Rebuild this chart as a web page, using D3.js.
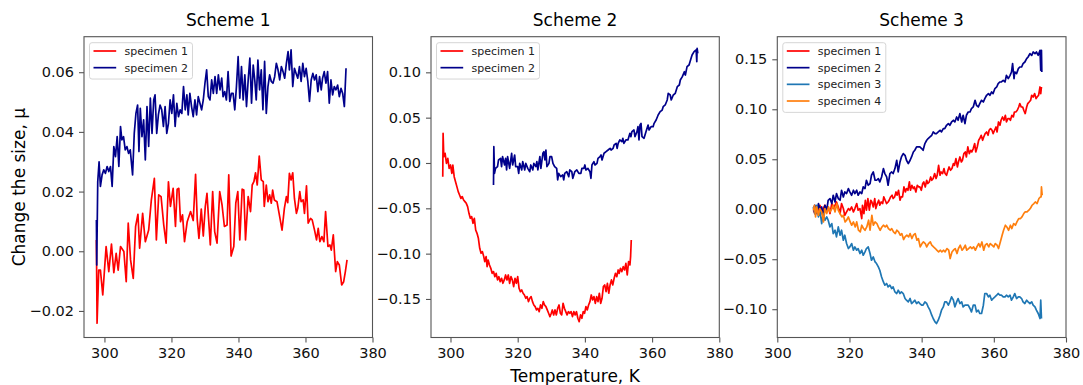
<!DOCTYPE html>
<html>
<head>
<meta charset="utf-8">
<script src="https://cdn.jsdelivr.net/npm/d3@7"></script>
<style>
  body { margin: 0; background: #fff; }
  svg { display: block; font-family: "DejaVu Sans", sans-serif; }
</style>
</head>
<body>
<div id="chart"></div>
<script>
const xTicks = [300, 320, 340, 360, 380]
const yTicks1 = [-0.02, 0, 0.02, 0.04, 0.06]
const yTicks2 = [-0.15, -0.10, -0.05, 0, 0.05, 0.10]
const yTicks3 = [-0.10, -0.05, 0, 0.05, 0.10, 0.15]
const titles = ["Scheme 1", "Scheme 2", "Scheme 3"]
const specimenNames = ["specimen 1", "specimen 2", "specimen 3", "specimen 4"]
const xaxislabel = "Temperature, K"
const yaxislabel = "Change the size, μ"

// [temperature K, change]
const scheme1Spec1 = [[297.6,0.0038],[297.8,-0.0241],[298.3,-0.0063],[298.8,-0.0063],[299.5,-0.0146],[300.5,0.0016],[301.3,-0.0068],[302.1,0.0024],[302.8,-0.0072],[303.5,-0.0007],[304.1,-0.0063],[304.8,0.0016],[305.8,-0.0001],[306.5,-0.0102],[307.1,0.0094],[307.8,-0.0029],[308.6,-0.0091],[309.3,0.0083],[310.0,0.0124],[310.5,0.0010],[311.4,0.0127],[312.2,0.0032],[313.2,0.0071],[314.0,0.0172],[314.9,0.0244],[315.5,0.0038],[316.2,0.0189],[316.9,0.0183],[317.7,0.0088],[318.4,0.0027],[319.1,0.0233],[319.7,0.0150],[320.5,0.0211],[321.2,0.0083],[321.7,0.0208],[322.2,0.0211],[322.7,0.0099],[323.3,0.0122],[323.9,0.0032],[324.7,0.0099],[325.7,0.0133],[326.5,0.0103],[327.2,0.0258],[327.7,0.0105],[328.2,0.0043],[328.9,0.0141],[329.5,0.0051],[330.1,0.0150],[330.6,0.0194],[331.1,0.0105],[331.6,0.0021],[332.3,0.0200],[332.9,0.0066],[333.6,0.0027],[334.4,0.0200],[335.1,0.0155],[335.8,0.0083],[336.6,0.0088],[337.1,0.0256],[337.8,-0.0016],[338.6,0.0016],[339.2,0.0161],[339.8,0.0200],[340.4,0.0038],[341.1,0.0208],[341.6,0.0205],[342.1,0.0038],[342.9,0.0183],[343.6,0.0133],[344.1,0.0222],[344.6,0.0233],[345.1,0.0263],[345.6,0.0222],[346.2,0.0319],[346.8,0.0239],[347.4,0.0233],[347.7,0.0150],[348.3,0.0222],[348.8,0.0166],[349.3,0.0189],[349.8,0.0161],[350.2,0.0205],[350.7,0.0172],[351.5,0.0166],[352.3,0.0116],[353.0,0.0071],[353.7,0.0144],[354.3,0.0183],[354.7,0.0163],[355.2,0.0261],[355.7,0.0239],[356.2,0.0263],[356.7,0.0177],[357.3,0.0127],[357.7,0.0144],[358.3,0.0200],[358.7,0.0166],[359.3,0.0172],[359.7,0.0127],[360.3,0.0219],[360.8,0.0094],[361.5,0.0110],[362.0,0.0105],[362.7,0.0071],[363.3,0.0038],[363.8,0.0077],[364.3,0.0032],[364.9,0.0049],[365.5,0.0032],[366.0,0.0133],[366.7,0.0016],[367.3,0.0021],[367.7,0.0004],[368.3,0.0055],[369.0,-0.0068],[369.5,-0.0035],[370.1,-0.0046],[370.8,-0.0113],[371.4,-0.0102],[371.9,-0.0068],[372.4,-0.0029]]

const scheme1Spec2 = [[297.6,0.0105],[297.7,-0.0046],[298.0,0.0233],[298.4,0.0300],[298.8,0.0217],[299.3,0.0256],[299.8,0.0273],[300.3,0.0261],[300.8,0.0284],[301.3,0.0267],[301.8,0.0284],[302.3,0.0217],[302.8,0.0351],[303.3,0.0317],[303.8,0.0384],[304.3,0.0284],[304.8,0.0418],[305.2,0.0373],[305.7,0.0384],[306.2,0.0340],[306.7,0.0351],[307.2,0.0328],[307.7,0.0340],[308.4,0.0256],[308.9,0.0395],[309.4,0.0462],[309.9,0.0490],[310.3,0.0334],[310.7,0.0479],[311.2,0.0384],[311.7,0.0440],[312.2,0.0306],[312.7,0.0485],[313.2,0.0351],[313.7,0.0513],[314.2,0.0395],[314.7,0.0507],[315.1,0.0524],[315.6,0.0395],[316.1,0.0457],[316.6,0.0490],[317.1,0.0474],[317.6,0.0418],[318.1,0.0485],[318.6,0.0395],[319.1,0.0429],[319.6,0.0507],[320.1,0.0462],[320.6,0.0524],[321.1,0.0418],[321.6,0.0496],[322.1,0.0451],[322.6,0.0474],[323.1,0.0462],[323.6,0.0552],[324.1,0.0474],[324.6,0.0524],[325.0,0.0457],[325.5,0.0529],[326.0,0.0485],[326.5,0.0451],[327.0,0.0507],[327.5,0.0457],[328.0,0.0518],[328.5,0.0496],[329.0,0.0474],[329.5,0.0507],[330.0,0.0563],[330.5,0.0608],[331.0,0.0518],[331.5,0.0507],[332.0,0.0574],[332.5,0.0529],[333.0,0.0585],[333.5,0.0529],[334.0,0.0591],[334.5,0.0541],[335.0,0.0580],[335.4,0.0518],[335.9,0.0535],[336.4,0.0507],[336.9,0.0602],[337.4,0.0502],[337.9,0.0529],[338.4,0.0529],[338.9,0.0474],[339.4,0.0552],[339.9,0.0652],[340.4,0.0513],[340.9,0.0619],[341.4,0.0507],[341.9,0.0591],[342.4,0.0485],[342.9,0.0574],[343.4,0.0647],[343.9,0.0496],[344.4,0.0624],[344.9,0.0569],[345.3,0.0507],[345.8,0.0641],[346.3,0.0541],[346.8,0.0608],[347.3,0.0474],[347.8,0.0636],[348.3,0.0462],[348.8,0.0552],[349.3,0.0591],[349.8,0.0569],[350.3,0.0563],[350.8,0.0585],[351.3,0.0630],[351.8,0.0608],[352.3,0.0574],[352.8,0.0619],[353.3,0.0602],[353.8,0.0580],[354.3,0.0630],[354.8,0.0669],[355.2,0.0608],[355.7,0.0675],[356.2,0.0552],[356.7,0.0613],[357.2,0.0596],[357.7,0.0580],[358.2,0.0619],[358.7,0.0569],[359.2,0.0630],[359.7,0.0585],[360.2,0.0613],[360.7,0.0569],[361.2,0.0502],[361.7,0.0574],[362.2,0.0596],[362.7,0.0574],[363.2,0.0591],[363.7,0.0535],[364.2,0.0585],[364.7,0.0541],[365.1,0.0580],[365.6,0.0602],[366.1,0.0563],[366.6,0.0602],[367.1,0.0496],[367.6,0.0574],[368.1,0.0524],[368.6,0.0552],[369.1,0.0541],[369.6,0.0557],[370.1,0.0518],[370.6,0.0546],[371.1,0.0529],[371.6,0.0485],[372.1,0.0613]]

const scheme2Spec1 = [[297.7,-0.0151],[297.8,0.0327],[298.0,0.0070],[298.4,0.0107],[298.8,-0.0004],[299.2,0.0051],[299.6,-0.0059],[300.0,-0.0022],[300.4,-0.0114],[300.7,-0.0022],[301.1,-0.0151],[301.5,-0.0206],[301.9,-0.0261],[302.3,-0.0316],[302.7,-0.0353],[303.1,-0.0390],[303.5,-0.0371],[303.9,-0.0408],[304.3,-0.0426],[304.7,-0.0445],[305.1,-0.0482],[305.5,-0.0555],[305.9,-0.0610],[306.3,-0.0592],[306.7,-0.0665],[307.1,-0.0610],[307.5,-0.0739],[307.9,-0.0776],[308.3,-0.0831],[308.7,-0.0941],[309.1,-0.0996],[309.5,-0.0978],[309.9,-0.1033],[310.2,-0.1088],[310.6,-0.1033],[310.9,-0.1143],[311.2,-0.1070],[311.6,-0.1125],[312.0,-0.1162],[312.4,-0.1217],[312.8,-0.1198],[313.2,-0.1254],[313.6,-0.1217],[314.0,-0.1290],[314.4,-0.1254],[314.8,-0.1309],[315.2,-0.1272],[315.6,-0.1327],[316.0,-0.1290],[316.4,-0.1235],[316.8,-0.1290],[317.2,-0.1235],[317.6,-0.1327],[318.0,-0.1254],[318.4,-0.1290],[318.8,-0.1364],[319.2,-0.1272],[319.6,-0.1327],[320.0,-0.1254],[320.4,-0.1382],[320.8,-0.1419],[321.2,-0.1401],[321.6,-0.1437],[322.0,-0.1456],[322.4,-0.1492],[322.8,-0.1474],[323.2,-0.1529],[323.6,-0.1492],[324.0,-0.1474],[324.4,-0.1529],[324.8,-0.1566],[325.2,-0.1584],[325.6,-0.1621],[326.0,-0.1603],[326.4,-0.1640],[326.8,-0.1566],[327.2,-0.1603],[327.6,-0.1529],[328.0,-0.1566],[328.4,-0.1584],[328.8,-0.1621],[329.2,-0.1658],[329.6,-0.1695],[330.0,-0.1658],[330.3,-0.1621],[330.7,-0.1676],[331.1,-0.1621],[331.5,-0.1676],[331.9,-0.1603],[332.3,-0.1566],[332.7,-0.1658],[333.1,-0.1676],[333.5,-0.1548],[333.9,-0.1603],[334.3,-0.1640],[334.7,-0.1676],[335.1,-0.1640],[335.5,-0.1658],[335.9,-0.1640],[336.3,-0.1695],[336.7,-0.1640],[337.1,-0.1676],[337.5,-0.1640],[337.9,-0.1713],[338.3,-0.1750],[338.7,-0.1676],[339.1,-0.1713],[339.5,-0.1640],[339.9,-0.1658],[340.3,-0.1584],[340.7,-0.1621],[341.1,-0.1566],[341.5,-0.1529],[341.9,-0.1456],[342.3,-0.1511],[342.7,-0.1474],[343.1,-0.1548],[343.5,-0.1474],[343.9,-0.1529],[344.3,-0.1437],[344.7,-0.1548],[345.1,-0.1492],[345.5,-0.1364],[345.9,-0.1345],[346.3,-0.1419],[346.7,-0.1327],[347.1,-0.1437],[347.5,-0.1345],[347.9,-0.1290],[348.3,-0.1345],[348.7,-0.1272],[349.1,-0.1217],[349.5,-0.1254],[349.9,-0.1180],[350.2,-0.1217],[350.6,-0.1162],[351.0,-0.1198],[351.4,-0.1143],[351.8,-0.1180],[352.2,-0.1107],[352.6,-0.1235],[353.0,-0.1088],[353.4,-0.1125],[353.6,-0.1033],[353.8,-0.0849]]

const scheme2Spec2 = [[312.8,-0.0243],[312.9,0.0180],[313.1,-0.0114],[313.4,-0.0059],[314.0,-0.0040],[314.3,0.0033],[314.9,0.0051],[315.2,-0.0040],[315.5,0.0070],[316.1,-0.0022],[316.4,0.0051],[316.7,-0.0077],[317.0,0.0070],[317.6,-0.0059],[318.2,0.0107],[318.5,-0.0022],[319.1,0.0088],[319.4,-0.0040],[320.0,-0.0040],[320.3,-0.0114],[320.6,-0.0004],[321.2,-0.0077],[321.5,0.0015],[322.1,-0.0077],[322.4,-0.0004],[323.0,-0.0059],[323.6,-0.0096],[323.9,-0.0022],[324.5,-0.0077],[324.8,-0.0004],[325.4,-0.0040],[325.7,0.0015],[326.0,-0.0077],[326.6,0.0070],[326.9,-0.0059],[327.5,0.0107],[327.8,0.0125],[328.1,0.0033],[328.4,0.0143],[328.7,-0.0040],[329.3,-0.0004],[329.6,0.0070],[330.1,0.0070],[330.5,-0.0004],[331.0,-0.0040],[331.6,-0.0059],[331.9,-0.0187],[332.2,-0.0114],[332.8,-0.0151],[333.4,-0.0132],[333.7,-0.0187],[334.0,-0.0114],[334.6,-0.0096],[335.2,-0.0151],[335.5,-0.0077],[336.1,-0.0096],[336.4,-0.0169],[337.0,-0.0096],[337.6,-0.0077],[338.2,-0.0114],[338.8,-0.0114],[339.1,-0.0059],[339.7,-0.0059],[340.0,-0.0022],[340.3,-0.0077],[340.9,-0.0059],[341.5,-0.0096],[341.8,-0.0169],[342.1,-0.0022],[342.7,0.0015],[343.0,-0.0022],[343.6,-0.0004],[343.9,0.0051],[344.5,0.0070],[344.8,0.0088],[345.1,0.0033],[345.7,0.0107],[346.3,0.0125],[346.9,0.0143],[347.5,0.0162],[347.8,0.0143],[348.4,0.0162],[348.7,0.0199],[349.3,0.0217],[349.6,0.0162],[349.9,0.0217],[350.4,0.0254],[351.0,0.0235],[351.3,0.0272],[351.6,0.0217],[352.2,0.0254],[352.8,0.0254],[353.4,0.0327],[353.7,0.0290],[354.0,0.0346],[354.6,0.0364],[354.9,0.0290],[355.5,0.0346],[355.8,0.0401],[356.1,0.0254],[356.4,0.0419],[356.7,0.0437],[357.0,0.0290],[357.6,0.0272],[358.2,0.0346],[358.8,0.0419],[359.1,0.0364],[359.7,0.0401],[360.3,0.0401],[360.6,0.0437],[361.2,0.0474],[361.8,0.0529],[362.4,0.0566],[363.0,0.0584],[363.3,0.0621],[363.9,0.0640],[364.5,0.0695],[364.8,0.0768],[365.4,0.0750],[365.7,0.0695],[366.3,0.0750],[366.9,0.0768],[367.5,0.0842],[368.1,0.0860],[368.4,0.0915],[369.0,0.0952],[369.6,0.1007],[369.9,0.0970],[370.4,0.1062],[371.0,0.1081],[371.6,0.1154],[371.9,0.1191],[372.5,0.1228],[373.1,0.1246],[373.3,0.1118],[373.4,0.1265],[373.6,0.1209]]

const scheme3Spec1 = [[310.0,-0.0010],[310.4,-0.0043],[310.9,0.0023],[311.4,-0.0027],[311.8,0.0040],[312.3,-0.0043],[312.7,0.0007],[313.2,0.0040],[313.7,-0.0010],[314.1,0.0023],[314.6,-0.0043],[315.1,0.0057],[315.5,0.0007],[316.0,0.0040],[316.4,0.0073],[316.9,0.0023],[317.4,-0.0043],[317.8,0.0057],[318.3,0.0007],[318.7,-0.0060],[319.2,-0.0027],[319.7,0.0007],[320.1,-0.0010],[320.6,0.0023],[321.1,-0.0027],[321.5,0.0007],[322.0,0.0057],[322.4,-0.0010],[322.9,0.0007],[323.4,-0.0093],[323.6,0.0040],[324.0,-0.0043],[324.4,0.0090],[324.7,-0.0010],[325.1,0.0107],[325.5,-0.0010],[325.9,0.0090],[326.2,0.0073],[326.6,0.0023],[327.0,0.0107],[327.3,0.0007],[327.7,0.0057],[328.1,0.0090],[328.4,0.0040],[328.8,0.0073],[329.2,0.0057],[329.5,0.0123],[329.9,0.0090],[330.3,0.0057],[330.7,0.0073],[331.0,0.0090],[331.4,0.0123],[331.8,0.0140],[332.1,0.0107],[332.5,0.0123],[332.9,0.0173],[333.2,0.0140],[333.6,0.0190],[334.0,0.0090],[334.3,0.0123],[334.7,0.0123],[335.1,0.0223],[335.5,0.0173],[335.8,0.0207],[336.2,0.0190],[336.6,0.0273],[336.9,0.0190],[337.3,0.0240],[337.7,0.0207],[338.0,0.0223],[338.4,0.0173],[338.8,0.0240],[339.2,0.0223],[339.5,0.0223],[339.9,0.0190],[340.3,0.0257],[340.6,0.0273],[341.0,0.0223],[341.4,0.0290],[341.7,0.0257],[342.1,0.0273],[342.5,0.0323],[342.8,0.0290],[343.2,0.0307],[343.6,0.0357],[344.0,0.0307],[344.3,0.0340],[344.7,0.0440],[345.1,0.0340],[345.4,0.0373],[345.8,0.0357],[346.2,0.0407],[346.5,0.0357],[346.9,0.0340],[347.3,0.0390],[347.6,0.0423],[348.0,0.0390],[348.4,0.0407],[348.8,0.0457],[349.1,0.0440],[349.5,0.0507],[349.9,0.0423],[350.2,0.0473],[350.6,0.0523],[351.0,0.0473],[351.3,0.0490],[351.7,0.0557],[352.1,0.0573],[352.4,0.0523],[352.8,0.0623],[353.2,0.0557],[353.6,0.0590],[353.9,0.0573],[354.3,0.0607],[354.7,0.0657],[355.0,0.0573],[355.4,0.0623],[355.8,0.0690],[356.1,0.0707],[356.5,0.0740],[356.9,0.0690],[357.2,0.0723],[357.6,0.0757],[358.0,0.0773],[358.4,0.0740],[358.7,0.0790],[359.1,0.0807],[359.5,0.0790],[359.8,0.0757],[360.2,0.0790],[360.6,0.0823],[360.9,0.0773],[361.3,0.0873],[361.7,0.0840],[362.0,0.0890],[362.4,0.0923],[362.8,0.0890],[363.2,0.0940],[363.5,0.0873],[363.9,0.0907],[364.3,0.0907],[364.6,0.0890],[365.0,0.0940],[365.4,0.0923],[365.7,0.0973],[366.1,0.0973],[366.5,0.0990],[366.9,0.1023],[367.2,0.1057],[367.6,0.1023],[368.0,0.1023],[368.3,0.0990],[368.7,0.0957],[369.1,0.1023],[369.4,0.1057],[369.8,0.1073],[370.2,0.1090],[370.5,0.1140],[370.9,0.1123],[371.3,0.1157],[371.7,0.1107],[372.0,0.1123],[372.4,0.1140],[372.8,0.1223],[373.0,0.1157],[373.2,0.1223]]

const scheme3Spec2 = [[310.0,0.0007],[310.4,0.0040],[310.9,-0.0043],[311.4,0.0057],[311.8,-0.0010],[312.3,0.0023],[312.7,-0.0077],[313.2,0.0040],[313.7,-0.0010],[314.1,0.0090],[314.6,0.0107],[315.1,0.0057],[315.5,0.0140],[316.0,0.0073],[316.4,0.0157],[316.9,0.0107],[317.4,0.0090],[317.8,0.0190],[318.3,0.0123],[318.7,0.0173],[319.2,0.0157],[319.7,0.0207],[320.1,0.0173],[320.6,0.0140],[321.1,0.0190],[321.5,0.0157],[322.0,0.0190],[322.4,0.0140],[322.9,0.0173],[323.4,0.0157],[323.8,0.0223],[324.3,0.0207],[324.7,0.0290],[325.2,0.0240],[325.7,0.0257],[326.1,0.0340],[326.6,0.0373],[327.1,0.0290],[327.5,0.0290],[328.0,0.0307],[328.4,0.0273],[328.9,0.0323],[329.4,0.0407],[329.8,0.0357],[330.3,0.0323],[330.7,0.0240],[331.2,0.0357],[331.7,0.0373],[332.1,0.0357],[332.6,0.0407],[333.1,0.0490],[333.5,0.0373],[334.0,0.0473],[334.4,0.0523],[334.9,0.0557],[335.4,0.0540],[335.8,0.0490],[336.3,0.0457],[336.8,0.0490],[337.2,0.0523],[337.7,0.0573],[338.1,0.0590],[338.6,0.0623],[339.1,0.0623],[339.5,0.0623],[340.0,0.0607],[340.4,0.0590],[340.9,0.0657],[341.4,0.0690],[341.8,0.0707],[342.3,0.0723],[342.8,0.0740],[343.2,0.0773],[343.7,0.0757],[344.1,0.0757],[344.6,0.0773],[345.1,0.0790],[345.5,0.0773],[346.0,0.0807],[346.4,0.0807],[346.9,0.0840],[347.4,0.0857],[347.8,0.0840],[348.3,0.0873],[348.8,0.0890],[349.2,0.0873],[349.7,0.0923],[350.1,0.0890],[350.6,0.0957],[351.1,0.0873],[351.5,0.0940],[352.0,0.0857],[352.4,0.0940],[352.9,0.0973],[353.4,0.0973],[353.8,0.1007],[354.3,0.1023],[354.8,0.1090],[355.2,0.1040],[355.7,0.1023],[356.1,0.1057],[356.6,0.1090],[357.1,0.1073],[357.5,0.1107],[358.0,0.1140],[358.5,0.1157],[358.9,0.1140],[359.4,0.1173],[359.8,0.1157],[360.3,0.1207],[360.8,0.1223],[361.2,0.1257],[361.7,0.1273],[362.1,0.1273],[362.6,0.1290],[363.1,0.1273],[363.5,0.1340],[364.0,0.1307],[364.5,0.1340],[364.9,0.1373],[365.2,0.1457],[365.6,0.1307],[365.8,0.1373],[366.3,0.1357],[366.8,0.1407],[367.2,0.1423],[367.7,0.1423],[368.1,0.1457],[368.6,0.1473],[369.1,0.1507],[369.5,0.1523],[370.0,0.1557],[370.5,0.1540],[370.9,0.1573],[371.4,0.1557],[371.8,0.1573],[372.3,0.1540],[372.8,0.1590],[373.0,0.1390],[373.2,0.1590],[373.3,0.1373]]

const scheme3Spec3 = [[310.0,0.0023],[310.4,-0.0043],[310.9,0.0040],[311.4,-0.0077],[311.8,-0.0010],[312.3,-0.0143],[312.7,-0.0043],[313.2,-0.0110],[313.7,-0.0077],[314.1,-0.0110],[314.6,-0.0177],[315.1,-0.0143],[315.5,-0.0243],[316.0,-0.0210],[316.4,-0.0277],[316.9,-0.0177],[317.4,-0.0260],[317.8,-0.0210],[318.3,-0.0310],[318.7,-0.0260],[319.2,-0.0343],[319.7,-0.0393],[320.1,-0.0377],[320.6,-0.0343],[321.1,-0.0410],[321.5,-0.0377],[322.0,-0.0410],[322.4,-0.0393],[322.9,-0.0443],[323.4,-0.0410],[323.8,-0.0460],[324.3,-0.0427],[324.7,-0.0393],[325.2,-0.0377],[325.7,-0.0443],[326.1,-0.0510],[326.6,-0.0477],[327.1,-0.0527],[327.5,-0.0543],[328.0,-0.0577],[328.4,-0.0610],[328.9,-0.0677],[329.4,-0.0727],[329.8,-0.0760],[330.3,-0.0743],[330.7,-0.0777],[331.2,-0.0760],[331.7,-0.0793],[332.1,-0.0777],[332.6,-0.0827],[333.1,-0.0843],[333.5,-0.0810],[334.0,-0.0843],[334.4,-0.0827],[334.9,-0.0843],[335.4,-0.0893],[335.8,-0.0910],[336.3,-0.0927],[336.8,-0.0893],[337.2,-0.0943],[337.7,-0.0927],[338.1,-0.0910],[338.6,-0.0943],[339.1,-0.0927],[339.5,-0.0943],[340.0,-0.0960],[340.4,-0.0960],[340.9,-0.0927],[341.4,-0.0943],[341.8,-0.0977],[342.3,-0.1010],[342.8,-0.1060],[343.2,-0.1093],[343.7,-0.1127],[344.1,-0.1143],[344.6,-0.1110],[345.1,-0.1060],[345.5,-0.1010],[346.0,-0.0977],[346.4,-0.0927],[346.9,-0.0927],[347.4,-0.0960],[347.8,-0.0927],[348.3,-0.0877],[348.8,-0.0910],[349.2,-0.0977],[349.7,-0.0927],[350.1,-0.0893],[350.6,-0.0943],[351.1,-0.0927],[351.5,-0.0977],[352.0,-0.0960],[352.4,-0.0960],[352.9,-0.0960],[353.4,-0.0993],[353.8,-0.1027],[354.3,-0.0960],[354.8,-0.0960],[355.2,-0.1027],[355.7,-0.1010],[356.1,-0.1043],[356.6,-0.1043],[357.1,-0.0960],[357.5,-0.0843],[358.0,-0.0843],[358.5,-0.0877],[358.9,-0.0860],[359.4,-0.0910],[359.8,-0.0893],[360.3,-0.0877],[360.8,-0.0860],[361.2,-0.0843],[361.7,-0.0860],[362.1,-0.0860],[362.6,-0.0877],[363.1,-0.0877],[363.5,-0.0860],[364.0,-0.0877],[364.5,-0.0860],[364.9,-0.0910],[365.4,-0.0877],[365.8,-0.0843],[366.3,-0.0893],[366.8,-0.0877],[367.2,-0.0877],[367.7,-0.0893],[368.1,-0.0927],[368.6,-0.0943],[369.1,-0.0910],[369.5,-0.0927],[370.0,-0.0943],[370.5,-0.0927],[370.9,-0.0960],[371.4,-0.0977],[371.8,-0.1010],[372.3,-0.1043],[372.8,-0.1093],[373.0,-0.0910],[373.2,-0.1093]]

const scheme3Spec4 = [[310.0,-0.0010],[310.3,0.0040],[310.6,-0.0077],[310.9,0.0023],[311.4,-0.0060],[311.8,0.0007],[312.3,-0.0027],[312.8,-0.0127],[313.2,0.0007],[313.7,-0.0043],[314.2,0.0023],[314.6,-0.0027],[315.1,0.0007],[315.5,0.0040],[316.0,-0.0027],[316.5,0.0057],[316.9,-0.0010],[317.4,-0.0043],[317.9,-0.0077],[318.3,-0.0060],[318.8,-0.0127],[319.2,-0.0110],[319.7,-0.0077],[320.2,-0.0127],[320.6,-0.0160],[321.1,-0.0127],[321.6,-0.0177],[322.0,-0.0127],[322.5,-0.0210],[323.0,-0.0227],[323.4,-0.0160],[323.9,-0.0193],[324.3,-0.0210],[324.8,-0.0177],[325.3,-0.0110],[325.7,-0.0210],[326.2,-0.0060],[326.6,-0.0160],[327.1,-0.0127],[327.6,-0.0143],[328.0,-0.0177],[328.5,-0.0210],[329.0,-0.0177],[329.4,-0.0160],[329.9,-0.0177],[330.3,-0.0160],[330.8,-0.0193],[331.3,-0.0210],[331.7,-0.0193],[332.2,-0.0227],[332.7,-0.0243],[333.1,-0.0210],[333.6,-0.0227],[334.1,-0.0260],[334.5,-0.0243],[335.0,-0.0303],[335.4,-0.0277],[335.9,-0.0260],[336.4,-0.0277],[336.8,-0.0243],[337.3,-0.0293],[337.7,-0.0260],[338.2,-0.0243],[338.7,-0.0310],[339.1,-0.0293],[339.6,-0.0377],[340.1,-0.0343],[340.5,-0.0327],[341.0,-0.0343],[341.4,-0.0377],[341.9,-0.0343],[342.4,-0.0327],[342.8,-0.0360],[343.3,-0.0377],[343.8,-0.0393],[344.2,-0.0410],[344.7,-0.0427],[345.2,-0.0410],[345.6,-0.0427],[346.1,-0.0410],[346.5,-0.0427],[347.0,-0.0393],[347.5,-0.0410],[347.9,-0.0493],[348.4,-0.0427],[348.8,-0.0410],[349.3,-0.0393],[349.8,-0.0443],[350.2,-0.0393],[350.7,-0.0360],[351.2,-0.0410],[351.6,-0.0393],[352.1,-0.0360],[352.5,-0.0410],[353.0,-0.0393],[353.5,-0.0377],[353.9,-0.0393],[354.4,-0.0377],[354.9,-0.0410],[355.3,-0.0377],[355.8,-0.0343],[356.2,-0.0377],[356.7,-0.0327],[357.2,-0.0410],[357.6,-0.0360],[358.1,-0.0343],[358.6,-0.0377],[359.0,-0.0343],[359.5,-0.0360],[360.0,-0.0377],[360.4,-0.0343],[360.9,-0.0360],[361.3,-0.0393],[361.8,-0.0327],[362.3,-0.0260],[362.7,-0.0210],[363.2,-0.0160],[363.6,-0.0177],[364.1,-0.0210],[364.6,-0.0160],[365.0,-0.0193],[365.5,-0.0143],[366.0,-0.0160],[366.4,-0.0127],[366.9,-0.0093],[367.4,-0.0093],[367.8,-0.0077],[368.3,-0.0043],[368.7,-0.0027],[369.2,-0.0027],[369.7,-0.0010],[370.1,0.0007],[370.6,0.0040],[371.1,0.0057],[371.5,0.0073],[372.0,0.0057],[372.5,0.0107],[372.9,0.0123],[373.1,0.0123],[373.2,0.0223],[373.4,0.0140]]

const width = 1083
const height = 385
const plotTop = 36.7
const plotBottom = 337.5
const colors = ["#ff0000", "#00008b", "#1f77b4", "#ff7f0e"]

const panels = [
  {title: titles[0], left: 84, right: 372.5, xDomain: [293.9, 380], yDomain: [-0.0289, 0.0719], yTicks: yTicks1,
   series: [scheme1Spec1, scheme1Spec2]},
  {title: titles[1], left: 431, right: 719.3, xDomain: [294.2, 380], yDomain: [-0.1925, 0.1393], yTicks: yTicks2,
   series: [scheme2Spec1, scheme2Spec2]},
  {title: titles[2], left: 777.3, right: 1066, xDomain: [300, 380], yDomain: [-0.1283, 0.1726], yTicks: yTicks3,
   series: [scheme3Spec1, scheme3Spec2, scheme3Spec3, scheme3Spec4]}
]

const svg = d3.select("#chart").append("svg")
    .attr("width", width)
    .attr("height", height)

panels.forEach((p, pi) => drawPanel(p, pi))

svg.append("text")
    .attr("x", 575)
    .attr("y", 382)
    .attr("text-anchor", "middle")
    .attr("font-size", 17)
    .attr("fill", "#000")
    .text(xaxislabel)

svg.append("text")
    .attr("transform", `translate(25,${(plotTop + plotBottom) / 2}) rotate(-90)`)
    .attr("text-anchor", "middle")
    .attr("font-size", 17)
    .attr("fill", "#000")
    .text(yaxislabel)

function drawPanel(p, pi) {
  const x = d3.scaleLinear().domain(p.xDomain).range([p.left, p.right])
  const y = d3.scaleLinear().domain(p.yDomain).range([plotBottom, plotTop])
  const g = svg.append("g")

  const clipId = "clip" + pi
  g.append("clipPath").attr("id", clipId)
    .append("rect")
      .attr("x", p.left).attr("y", plotTop)
      .attr("width", p.right - p.left).attr("height", plotBottom - plotTop)

  const line = d3.line()
      .x(d => x(d[0]))
      .y(d => y(d[1]))

  g.append("g")
      .attr("clip-path", `url(#${clipId})`)
    .selectAll("path")
    .data(p.series)
    .join("path")
      .attr("fill", "none")
      .attr("stroke", (d, i) => colors[i])
      .attr("stroke-width", 1.7)
      .attr("stroke-linejoin", "round")
      .attr("d", line)

  g.append("g")
      .attr("transform", `translate(0,${plotBottom})`)
      .call(d3.axisBottom(x).tickValues(xTicks).tickFormat(d3.format("d")).tickSize(5).tickPadding(5))
      .call(axisStyle)

  g.append("g")
      .attr("transform", `translate(${p.left},0)`)
      .call(d3.axisLeft(y).tickValues(p.yTicks).tickFormat(d3.format(".2f")).tickSize(5).tickPadding(5))
      .call(axisStyle)

  g.append("rect")
      .attr("x", p.left).attr("y", plotTop)
      .attr("width", p.right - p.left).attr("height", plotBottom - plotTop)
      .attr("fill", "none")
      .attr("stroke", "#555")
      .attr("stroke-width", 1.1)

  g.append("text")
      .attr("x", (p.left + p.right) / 2)
      .attr("y", 26)
      .attr("text-anchor", "middle")
      .attr("font-size", 17)
      .attr("fill", "#000")
      .text(p.title)

  const lx = p.left + 5.5
  const ly = plotTop + 6
  const rowH = 16.67
  const legend = g.append("g")
  legend.append("rect")
      .attr("x", lx).attr("y", ly)
      .attr("width", 103).attr("height", p.series.length * rowH + 3)
      .attr("rx", 2.5)
      .attr("fill", "#fff").attr("fill-opacity", 0.8)
      .attr("stroke", "#d6d6d6")
  const items = legend.selectAll("g.item")
    .data(p.series.map((s, i) => i))
    .join("g")
      .attr("transform", i => `translate(${lx},${ly + 8.3 + i * rowH})`)
  items.append("line")
      .attr("x1", 4).attr("x2", 26.7)
      .attr("stroke", i => colors[i])
      .attr("stroke-width", 1.7)
  items.append("text")
      .attr("x", 35)
      .attr("dy", "0.35em")
      .attr("font-size", 11)
      .attr("fill", "#222")
      .text(i => specimenNames[i])
}

function axisStyle(g) {
  g.select(".domain").remove()
  g.selectAll(".tick line").attr("stroke", "#555").attr("stroke-width", 1.1)
  g.selectAll(".tick text")
      .attr("font-size", 14.5)
      .attr("font-family", "DejaVu Sans, sans-serif")
      .attr("fill", "#111")
}
</script>
</body>
</html>
